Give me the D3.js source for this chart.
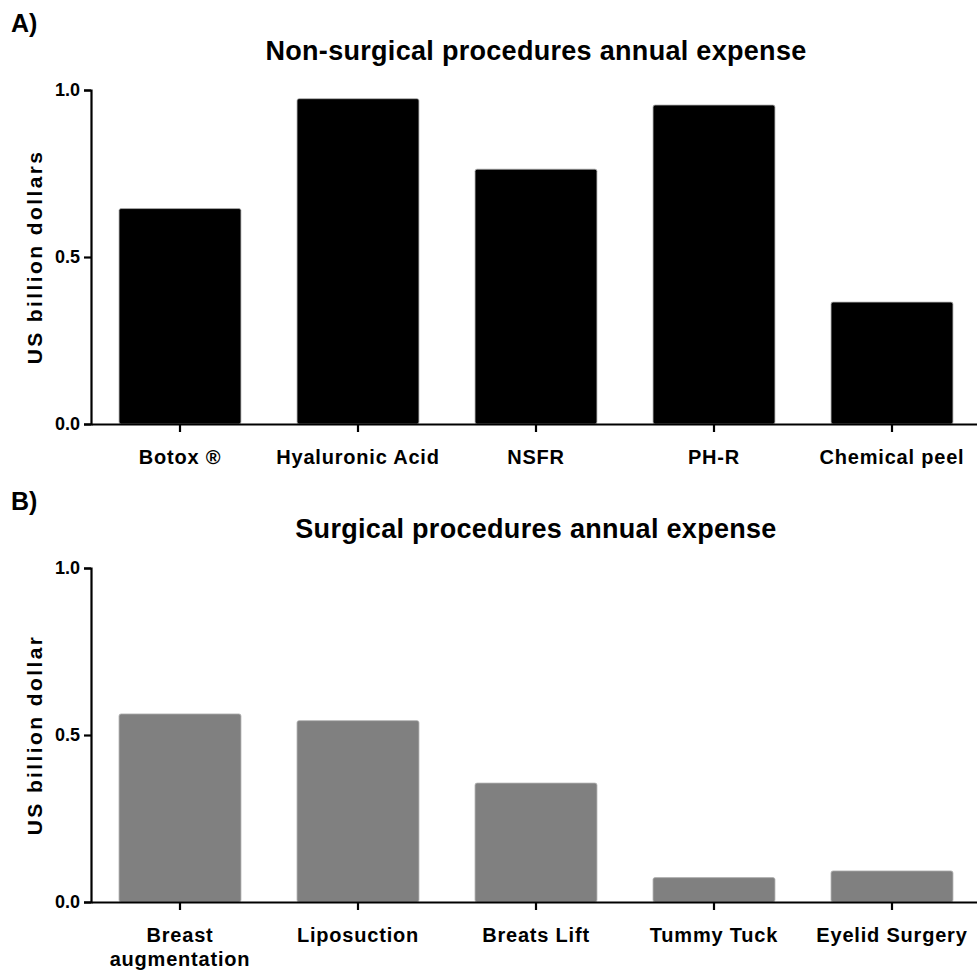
<!DOCTYPE html>
<html>
<head>
<meta charset="utf-8">
<script src="https://cdn.jsdelivr.net/npm/d3@7"></script>
<style>
  body { margin: 0; background: #fff; }
  svg { font-family: "Liberation Sans", Arial, sans-serif; font-weight: bold; }
</style>
</head>
<body>
<div id="chart"></div>
<script>
// data (US billion dollars)
var nonSurgical = ['Botox \u00AE', 'Hyaluronic Acid', 'NSFR', 'PH-R', 'Chemical peel'];
var nonSurgicalValues = [0.645, 0.974, 0.763, 0.955, 0.365];
var surgical = ['Breast\naugmentation', 'Liposuction', 'Breats Lift', 'Tummy Tuck', 'Eyelid Surgery'];
var surgicalValues = [0.563, 0.543, 0.356, 0.073, 0.093];
var yTicks = [0, 0.5, 1.0];

var width = 977, height = 975;

var vis = d3.select('#chart').append('svg')
    .attr('width', width)
    .attr('height', height);

function panel(opts) {
    var g = vis.append('g');

    var x = d3.scaleBand()
        .domain(opts.cats)
        .range([91, 981])
        .paddingInner(0.315)
        .paddingOuter(0.1575);

    var y = d3.scaleLinear()
        .domain([0, 1])
        .range([opts.y0, opts.y0 - 334]);

    // panel letter and title
    g.append('text')
        .attr('x', 11).attr('y', opts.y0 - 392)
        .style('font-size', '25px')
        .text(opts.letter);

    g.append('text')
        .attr('x', 536).attr('y', opts.y0 - 364)
        .attr('text-anchor', 'middle')
        .style('font-size', '27px')
        .style('letter-spacing', '0.3px')
        .text(opts.title);

    // bars
    g.selectAll('rect.bar')
        .data(opts.values)
        .enter().append('rect')
        .attr('class', 'bar')
        .attr('x', function(d, i) { return x(opts.cats[i]); })
        .attr('width', x.bandwidth())
        .attr('y', function(d) { return y(d); })
        .attr('height', function(d) { return y(0) - y(d); })
        .attr('rx', 2)
        .attr('fill', opts.fill)
        .attr('stroke', '#b0b0b0')
        .attr('stroke-width', 0.8);

    // y axis
    var yAxis = g.append('g')
        .attr('transform', 'translate(91,0)')
        .call(d3.axisLeft(y).tickValues(yTicks).tickFormat(d3.format('.1f')).tickSize(7).tickPadding(4));
    yAxis.selectAll('path, line').attr('stroke', '#000').attr('stroke-width', 2.2);
    yAxis.selectAll('text')
        .style('font-size', '18px')
        .style('font-family', '"Liberation Sans", Arial, sans-serif')
        .style('font-weight', 'bold')
        .attr('fill', '#000');

    // x axis
    var xAxis = g.append('g')
        .attr('transform', 'translate(0,' + opts.y0 + ')')
        .call(d3.axisBottom(x).tickSize(8).tickSizeOuter(0).tickFormat(''));
    xAxis.select('path.domain').attr('stroke', '#000').attr('stroke-width', 2.2);
    xAxis.selectAll('line').attr('stroke', '#000').attr('stroke-width', 2.2);

    opts.cats.forEach(function(c) {
        var lines = c.split('\n');
        var t = g.append('text')
            .attr('x', x(c) + x.bandwidth() / 2)
            .attr('y', opts.y0 + 40)
            .attr('text-anchor', 'middle')
            .style('font-size', '20px')
            .style('letter-spacing', '0.8px');
        lines.forEach(function(l, i) {
            t.append('tspan')
                .attr('x', x(c) + x.bandwidth() / 2)
                .attr('dy', i === 0 ? 0 : 24)
                .text(l);
        });
    });

    // y axis title
    g.append('text')
        .attr('transform', 'translate(42,' + (opts.y0 - 167) + ') rotate(-90)')
        .attr('text-anchor', 'middle')
        .style('font-size', '21px')
        .style('letter-spacing', '2.4px')
        .text(opts.ylabel);
}

panel({
    letter: 'A)',
    title: 'Non-surgical procedures annual expense',
    cats: nonSurgical,
    values: nonSurgicalValues,
    fill: '#000',
    y0: 424,
    ylabel: 'US billion dollars'
});

panel({
    letter: 'B)',
    title: 'Surgical procedures annual expense',
    cats: surgical,
    values: surgicalValues,
    fill: '#808080',
    y0: 902,
    ylabel: 'US billion dollar'
});
</script>
</body>
</html>
